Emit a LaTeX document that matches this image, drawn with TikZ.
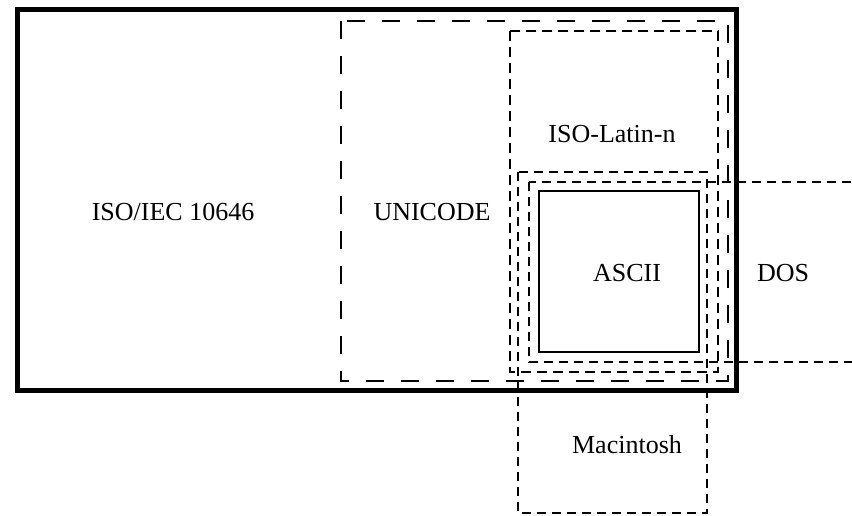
\documentclass[tikz,border=0pt]{standalone}
\usepackage{fontspec}
\setmainfont{Liberation Serif}
\tikzset{
  setname/.style={font=\fontsize{26}{30}\selectfont,inner sep=0pt},
  longdash/.style={line width=2pt,dash pattern=on 18pt off 17pt},
  middash/.style={line width=1.8pt,dash pattern=on 10pt off 6pt},
  shortdash/.style={line width=1.8pt,dash pattern=on 9pt off 6pt},
}
\begin{document}
\begin{tikzpicture}[x=1pt,y=-1pt]
  \useasboundingbox (0,0) rectangle (852,515);
  \clip (0,0) rectangle (852,515);
  % ISO/IEC 10646: the heavy outer frame
  \draw[line width=5pt] (17,9) rectangle (736,390);
  \node[setname] (iso) at (173,212) {ISO/IEC 10646};
  % UNICODE
  \draw[longdash] (341,21) rectangle (728,381);
  \node[setname] (uni) at (432,212) {UNICODE};
  % ISO-Latin-n
  \draw[middash] (510,31) rectangle (718,372);
  \node[setname] (latin) at (612,134) {ISO-Latin-n};
  % Macintosh hangs below the frame
  \draw[shortdash] (518,172) rectangle (707,513);
  \node[setname] (mac) at (627,445) {Macintosh};
  % DOS runs off the right edge
  \draw[shortdash] (529,182) rectangle (900,362);
  \node[setname] (dos) at (783,273) {DOS};
  % ASCII: solid, innermost
  \draw[line width=1.5pt] (539,191) rectangle (699,352);
  \node[setname] (ascii) at (627,273) {ASCII};
\end{tikzpicture}
\end{document}
